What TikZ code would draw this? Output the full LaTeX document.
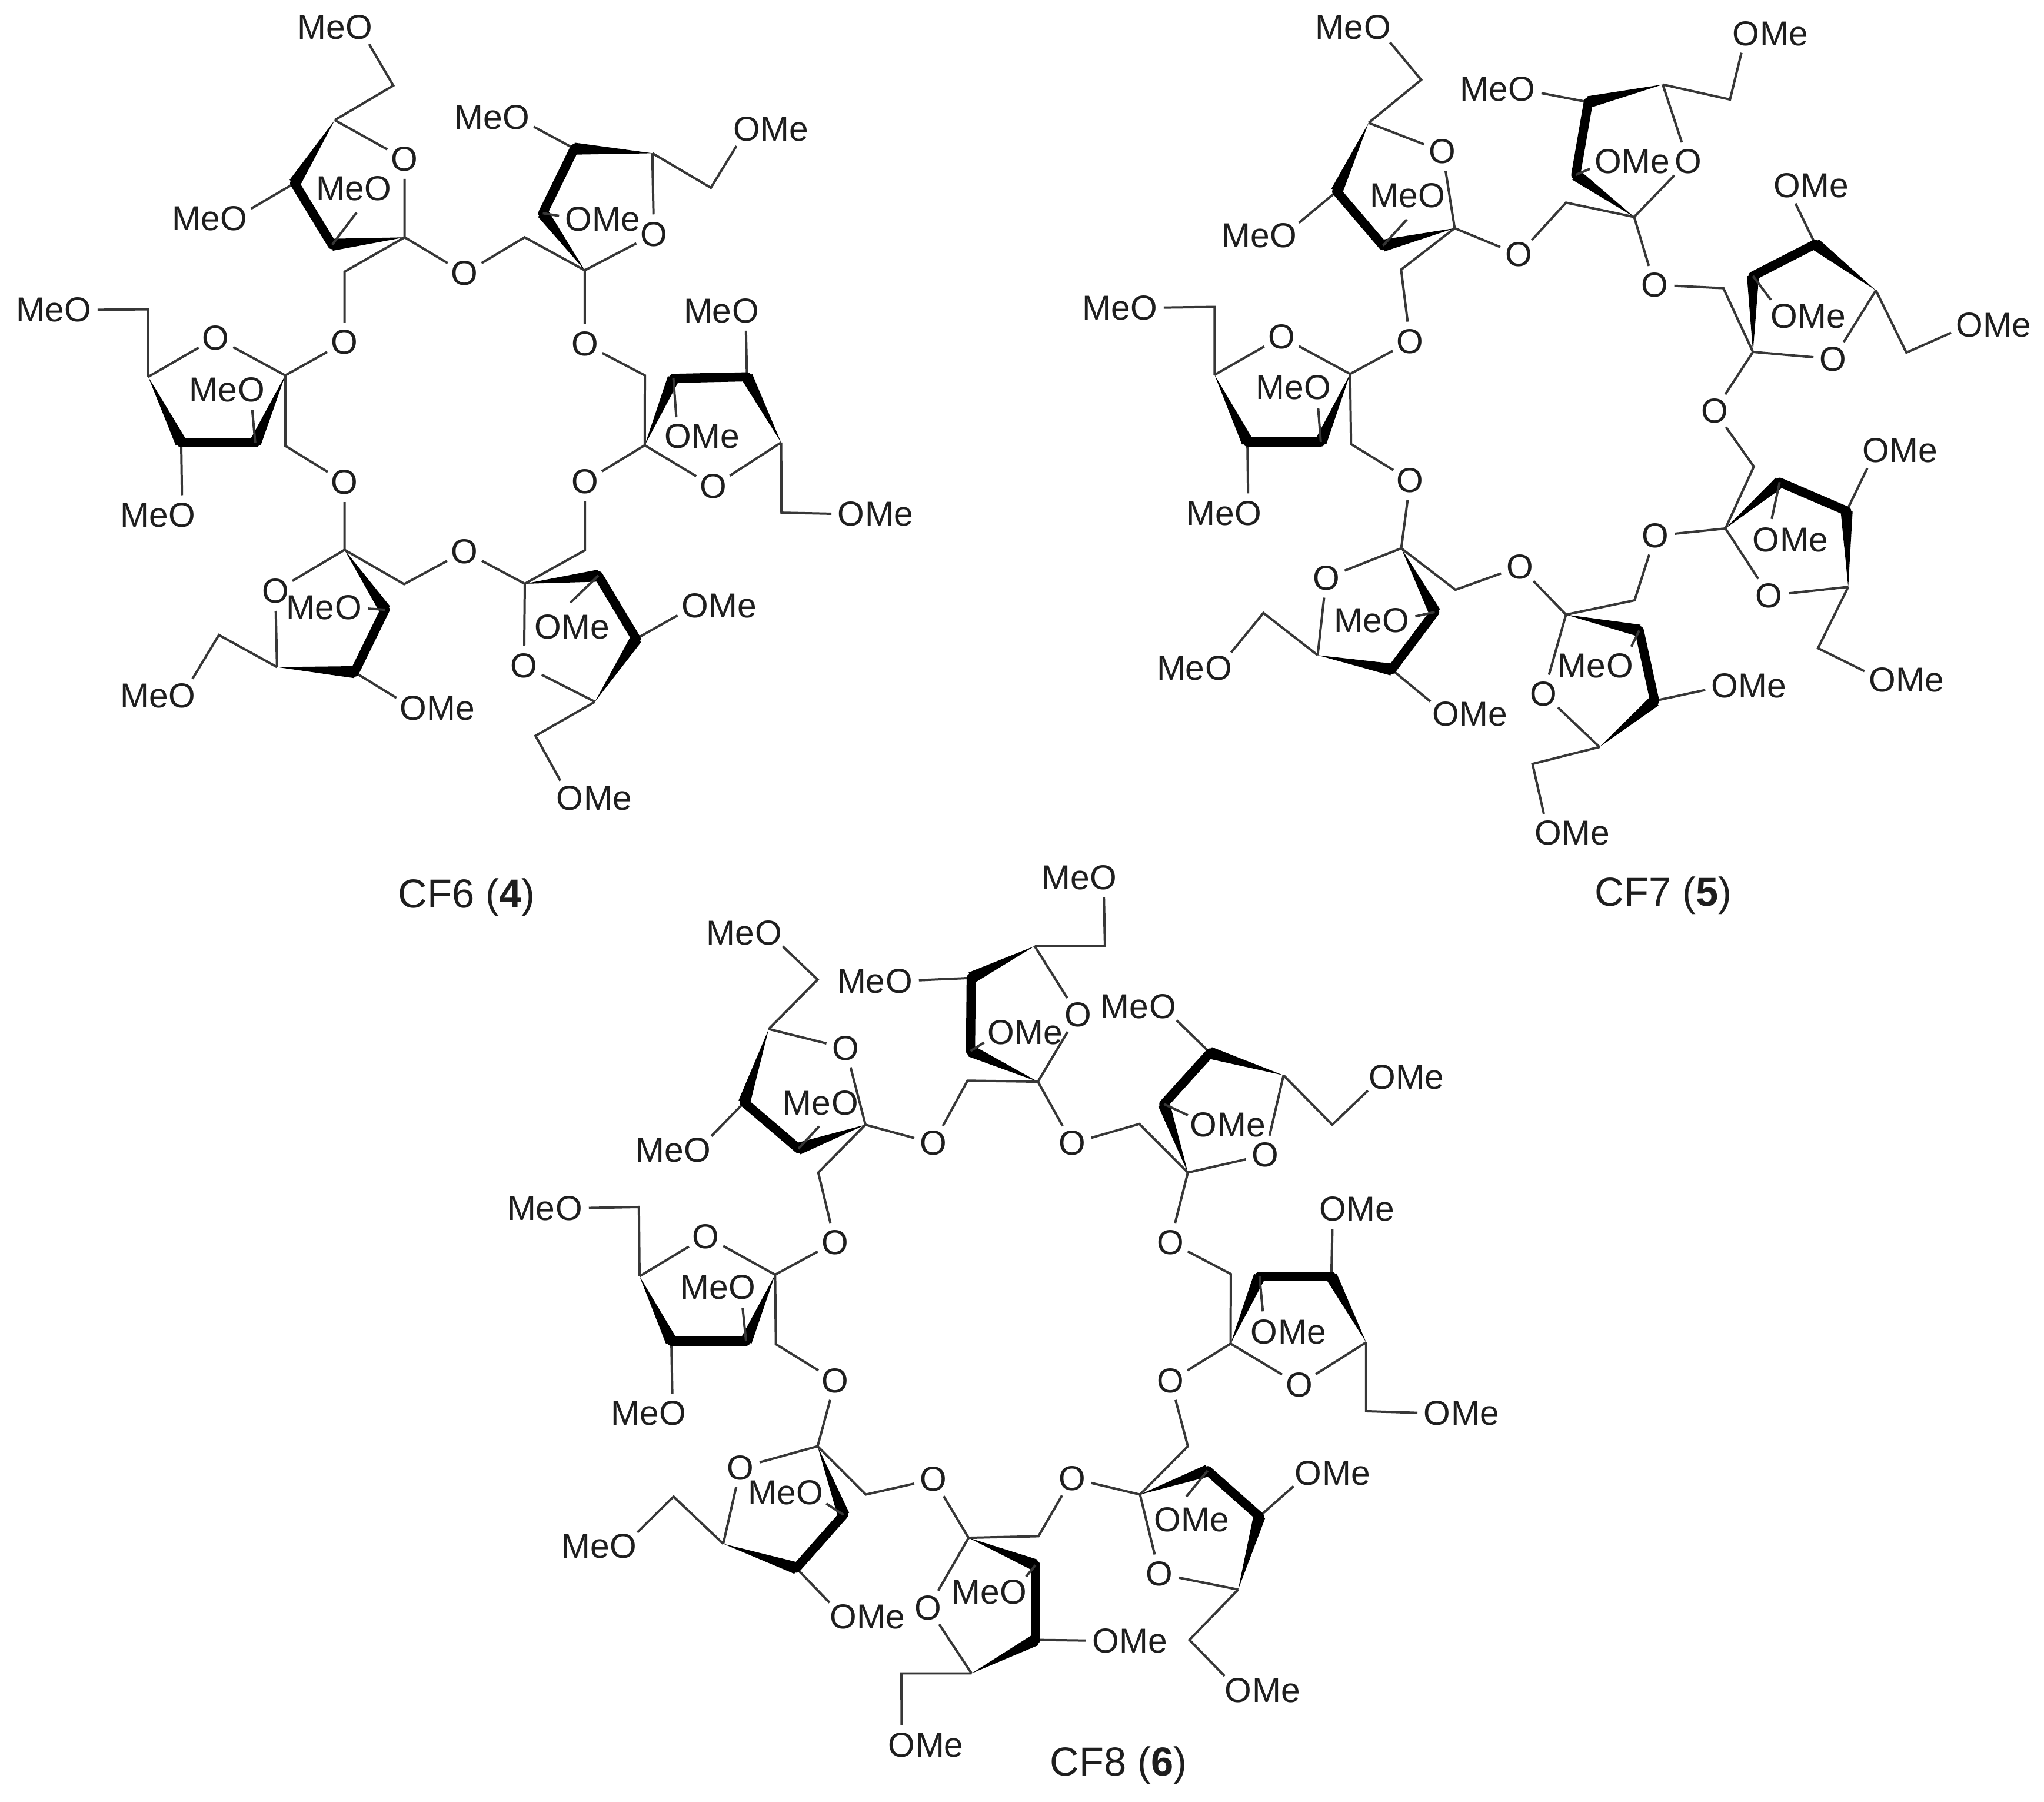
\documentclass[tikz,border=0pt]{standalone}
\usepackage{fontspec}
\setmainfont{Liberation Sans}
\usetikzlibrary{calc,positioning}
\definecolor{bondgray}{RGB}{55,55,55}
\definecolor{textgray}{RGB}{30,30,30}
\tikzset{
  bond/.style={line width=1.8pt, color=bondgray},
  boldbond/.style={line width=7pt, line cap=round, color=black},
  oatom/.style={circle, inner sep=0pt, minimum size=30pt, text=textgray, font=\fontsize{26.5}{30}\selectfont},
  meatom/.style={inner sep=0pt, text=textgray, font=\fontsize{26.5}{30}\selectfont},
  caption/.style={inner sep=0pt, text=textgray, font=\fontsize{31}{35}\selectfont}
}
% name, ring atoms a b c d and ring O, CH2 e on d, CH2 f on a, bridge O g
\newcommand{\sugar}[9]{
  \coordinate (#1a) at (#2);
  \coordinate (#1b) at (#3);
  \coordinate (#1c) at (#4);
  \coordinate (#1d) at (#5);
  \node[oatom] (#1o) at (#6) {O};
  \coordinate (#1e) at (#7);
  \coordinate (#1f) at (#8);
  \node[oatom] (#1g) at (#9) {O};
}
\newcommand{\meo}[2]{
  \node[oatom] (#1) at ([xshift=18.5pt]#2) {O};
  \node[meatom, anchor=base east, xshift=-10.4pt] (#1m) at (#1.base) {Me};
}
\newcommand{\ome}[2]{
  \node[oatom] (#1) at ([xshift=-18.5pt]#2) {O};
  \node[meatom, anchor=base west, xshift=10.4pt] (#1m) at (#1.base) {Me};
}
\newcommand{\wedgebond}[2]{
  \fill[black] (#1) -- ($(#2)!4.6pt!90:(#1)$) -- ($(#2)!4.6pt!-90:(#1)$) -- cycle;
}
\begin{document}
\begin{tikzpicture}[x=1pt, y=-1pt]
  \useasboundingbox (0,0) rectangle (1568,1382);

  % CF6
  \sugar{u1}{310.4,182}{254.8,187.7}{226,140.5}{256.8,92.1}{310.4,122}{301.7,65.6}{264.3,208.4}{264.3,262.5}
  \meo{u1x}{257,20.7} \meo{u1y}{161,167.7} \meo{u1z}{271.5,144.6}
  \coordinate (u1s) at (273.5,163);
  \sugar{u2}{448.6,207.3}{416.4,163.5}{440.6,114}{500.4,117.5}{501.6,179.6}{545.3,144}{402.5,182}{356.4,209.6}
  \ome{u2x}{591.4,99} \meo{u2y}{377.6,90} \ome{u2z}{462.4,168}
  \sugar{u3}{494.6,341.5}{516.6,290.2}{573,289}{599.2,339.4}{547.1,373}{599.5,393.2}{494.7,287.9}{448.6,263.7}
  \ome{u3x}{671.5,394.3} \meo{u3y}{553.4,238.4} \ome{u3z}{538.6,334.4}
  \coordinate (u3s) at (518.8,320);
  \sugar{u4}{402.6,447.7}{459,441.5}{488,489.9}{456.4,538.2}{402,510.6}{410.8,564.3}{448.7,422}{448.7,369.4}
  \ome{u4x}{455.7,612} \ome{u4y}{551.5,464.5} \ome{u4z}{438.8,480.7}
  \coordinate (u4s) at (437.5,462.2);
  \sugar{u5}{264.3,421.7}{295.4,467.6}{272,515.5}{212.5,511.6}{211.2,453.3}{167.9,487}{310,448}{356.3,423}
  \meo{u5x}{121.3,533.6} \ome{u5y}{335.5,543.2} \meo{u5z}{248.7,465.8}
  \sugar{u6}{218.8,287.9}{195.8,339.7}{139,339.7}{113.7,289}{165.5,259}{113.7,237.2}{219,342}{264.3,369.9}
  \meo{u6x}{41.2,237.7} \meo{u6y}{121.3,395} \meo{u6z}{174.2,298.7}
  \coordinate (u6s) at (193.5,314.4);

  % CF7
  \sugar{v1}{1115.9,175}{1060.9,188.4}{1025.4,146.8}{1049.9,94.2}{1106.6,116.2}{1090.2,61.2}{1074.8,206.8}{1081.7,261.8}
  \meo{v1x}{1038.1,20.8} \meo{v1y}{966.2,180.6} \meo{v1z}{1079.7,149.8}
  \coordinate (v1s) at (1079.2,168.4);
  \sugar{v2}{1253.6,166.4}{1208.8,134.1}{1218.4,78.3}{1275.5,64.8}{1294.9,123.6}{1327.1,76.3}{1201.3,155.4}{1164.9,195.3}
  \ome{v2x}{1358,25.7} \meo{v2y}{1149,68.5} \ome{v2z}{1252.1,123.6}
  \sugar{v3}{1344.7,269.9}{1344.7,211.7}{1392.5,187.2}{1439,222.7}{1406.3,275.3}{1462.4,270.4}{1322,221}{1269.2,218.5}
  \ome{v3x}{1529.1,249.1} \ome{v3y}{1389.2,142.4} \ome{v3z}{1387,242.3}
  \coordinate (v3s) at (1358.5,230);
  \sugar{v4}{1323.6,405.3}{1365.2,369.8}{1416.6,391.9}{1417.8,450.1}{1357.1,456.7}{1394.6,497.1}{1345.4,357.8}{1315.2,315.2}
  \ome{v4x}{1462.4,521.5} \ome{v4y}{1457.5,345.4} \ome{v4z}{1373.3,413.9}
  \coordinate (v4s) at (1359.1,398);
  \sugar{v5}{1201.3,471.4}{1257.5,483.6}{1269.3,537.5}{1227,572.9}{1184.1,532.1}{1175.6,585.9}{1253.9,460.4}{1269.8,410.9}
  \ome{v5x}{1206.2,639} \ome{v5y}{1341.5,526} \meo{v5z}{1224,510.5}
  \coordinate (v5s) at (1251.4,495.9);
  \sugar{v6}{1074.9,420.5}{1100.6,469.4}{1067.6,513.5}{1010.8,502.5}{1017.4,443.2}{969.2,470.1}{1116.5,452.3}{1165.8,434.7}
  \meo{v6x}{916.3,512.2} \ome{v6y}{1127.5,547.7} \meo{v6z}{1052.4,476}
  \sugar{v7}{1035.7,286.8}{1013.2,338.9}{956.9,338.9}{931.7,287.5}{983,258.2}{931.7,235.4}{1036.4,340.6}{1081.8,368.4}
  \meo{v7x}{859,236.1} \meo{v7y}{939.1,393.6} \meo{v7z}{992.4,297.3}
  \coordinate (v7s) at (1011.2,313.2);

  % CF8
  \sugar{w1}{663.9,862.6}{612.5,881}{570.9,845.5}{589.7,789.2}{648.7,803.9}{627.2,751.3}{627.7,899.3}{640.6,952.7}
  \meo{w1x}{570.9,715.3} \meo{w1y}{516.6,882.2} \meo{w1z}{629.6,846}
  \coordinate (w1s) at (628.4,863.8);
  \sugar{w2}{796.2,829.6}{744.5,806}{745,750}{793.7,725.6}{826.8,778.2}{847.6,725.6}{742.2,828.8}{716,876.8}
  \meo{w2x}{828,673} \meo{w2y}{671.2,752.5} \ome{w2z}{786.4,791.6}
  \sugar{w3}{911.2,899.3}{892.8,846.7}{928.3,807.5}{984.6,824.7}{970.4,885.8}{1022,862.6}{874,862}{822.6,876.8}
  \ome{w3x}{1078.8,825.9} \meo{w3y}{873.3,772} \ome{w3z}{941.8,862.6}
  \coordinate (w3s) at (911.2,855.3);
  \sugar{w4}{944,1030.5}{966.2,978.8}{1021.3,978.8}{1048,1029.5}{996.5,1062}{1048,1082.3}{944.2,977.1}{897.7,952.7}
  \ome{w4x}{1121,1084} \ome{w4y}{1040.9,927.4} \ome{w4z}{988.3,1021.7}
  \coordinate (w4s) at (968.7,1005.7);
  \sugar{w5}{874.5,1146.2}{926.4,1127.9}{966.1,1163}{949.8,1219.1}{889.4,1207}{912.4,1257.7}{911.2,1109.2}{897.9,1059}
  \ome{w5x}{968.5,1296.3} \ome{w5y}{1022.2,1129.8} \ome{w5z}{914.2,1165.3}
  \coordinate (w5s) at (910,1147.8);
  \sugar{w6}{743,1179.4}{794.3,1200.4}{794.3,1257.7}{745.3,1283.4}{712.1,1233.1}{691.5,1283.4}{796.6,1178.2}{822.3,1133.8}
  \ome{w6x}{710.2,1338.3} \ome{w6y}{866.8,1258.4} \meo{w6z}{759,1221}
  \sugar{w7}{627.2,1109.2}{647.1,1161.8}{610.9,1202.7}{554.8,1184}{568.1,1125.6}{516.7,1147.8}{664.2,1146.2}{716.1,1134.5}
  \meo{w7x}{459.6,1185.9} \ome{w7y}{665.4,1240.1} \meo{w7z}{602.7,1144.8}
  \sugar{w8}{594.6,977.6}{572.3,1028.6}{515,1028.6}{490.6,978.8}{541.5,948.2}{490.1,925.7}{595.2,1030.9}{640.8,1059}
  \meo{w8x}{418,926.7} \meo{w8y}{497.5,1084} \meo{w8z}{550.8,987.4}
  \coordinate (w8s) at (569.7,1003.3);

  % Ring bonds and side chains
  \foreach \n in {u1,u2,u3,u4,u5,u6,v1,v2,v3,v4,v5,v6,v7,w1,w2,w3,w4,w5,w6,w7,w8} {
    \draw[bond] (\n d) -- (\n o) -- (\n a);
    \draw[bond] (\n d) -- (\n e) -- (\n x);
    \draw[bond] (\n c) -- (\n y);
    \wedgebond{\n a}{\n b}
    \wedgebond{\n d}{\n c}
    \draw[boldbond] (\n b) -- (\n c);
  }

  % Inner OMe bonds
  \foreach \n in {u1,u3,u4,u6,v1,v3,v4,v5,v7,w1,w3,w4,w5,w8} {
    \draw[bond] (\n b) -- (\n s);
  }
  \foreach \n in {u2,u5,v2,v6,w2,w6,w7} {
    \draw[bond] (\n b) -- (\n z);
  }

  % Links between rings
  \foreach \p/\n in {u1/u2,u2/u3,u3/u4,u4/u5,u5/u6,u6/u1,
                     v1/v2,v2/v3,v3/v4,v4/v5,v5/v6,v6/v7,v7/v1,
                     w1/w2,w2/w3,w3/w4,w4/w5,w5/w6,w6/w7,w7/w8,w8/w1} {
    \draw[bond] (\p a) -- (\n g) -- (\n f) -- (\n a);
  }

  % Captions
  \node[caption] (cf6) at (358,688) {CF6 (\textbf{4})};
  \node[caption] (cf7) at (1276,687) {CF7 (\textbf{5})};
  \node[caption] (cf8) at (858,1354) {CF8 (\textbf{6})};
\end{tikzpicture}
\end{document}
